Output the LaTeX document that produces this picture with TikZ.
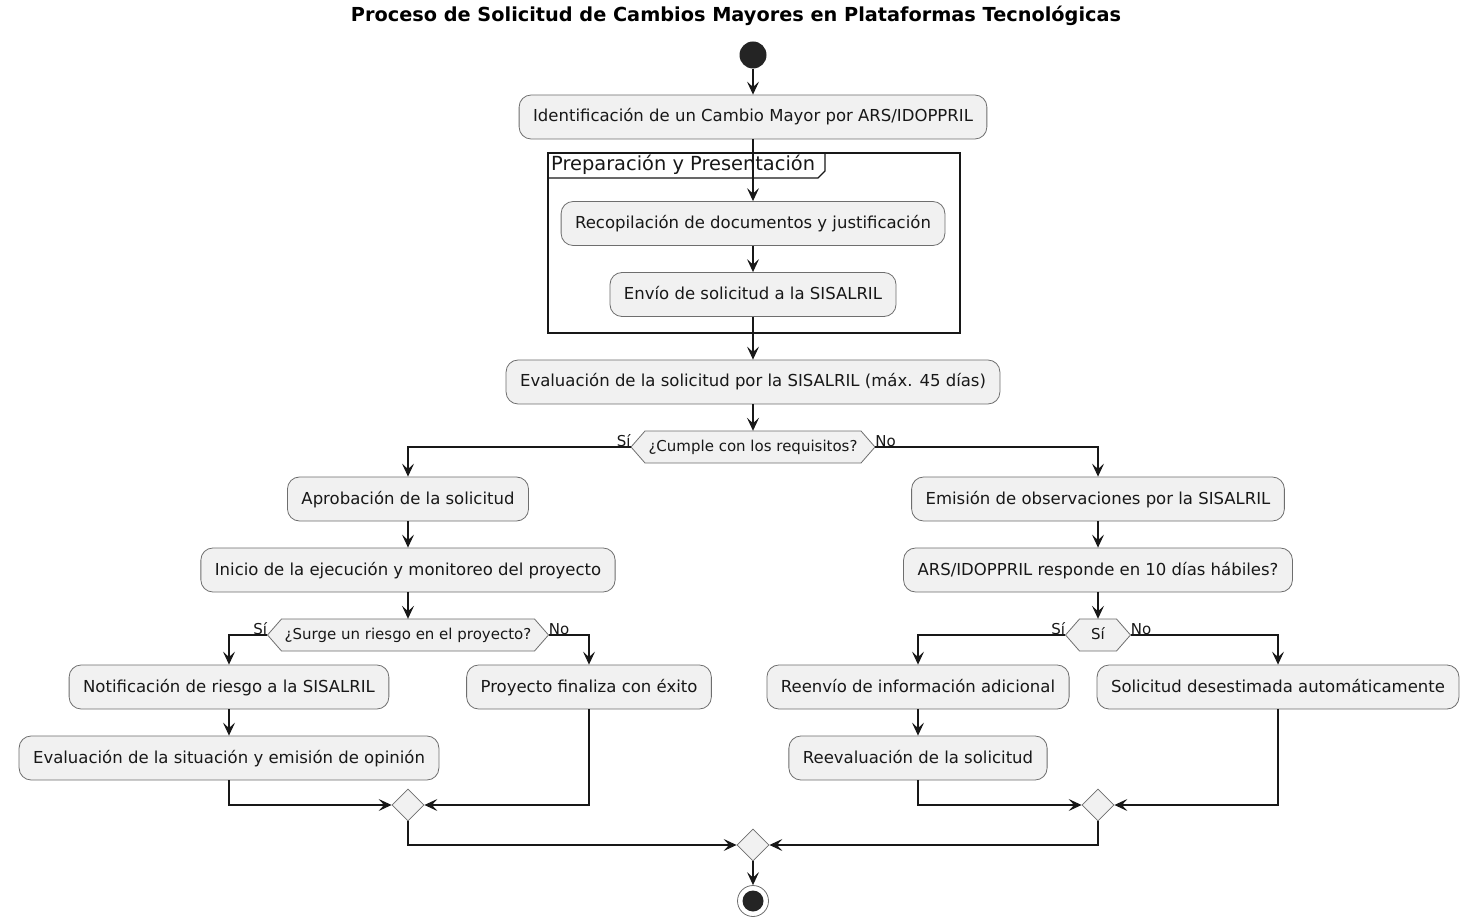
\documentclass[tikz,border=0pt]{standalone}
\usepackage{fontspec}
\setmainfont{DejaVu Sans}
\usetikzlibrary{shapes.geometric,arrows.meta,calc}
\definecolor{nodefill}{HTML}{F1F1F1}
\definecolor{ink}{HTML}{181818}
\definecolor{edge}{HTML}{6E6E6E}
\newcommand\hexbox[5]{% name, x, y, half width, text
  \draw[hexline] ({#2-#4},#3) -- ({#2-#4+14},{#3-16}) -- ({#2+#4-14},{#3-16}) -- ({#2+#4},#3) -- ({#2+#4-14},{#3+16}) -- ({#2-#4+14},{#3+16}) -- cycle;
  \node[hextext, minimum width={2*#4}] (#1) at (#2,#3) {#5};
}
\begin{document}
\begin{tikzpicture}[x=1pt,y=-1pt,
  act/.style={draw=edge, line width=0.8pt, fill=nodefill, rounded corners=12pt,
    minimum height=44pt, inner xsep=14pt, inner ysep=0pt, text height=12pt, text depth=2pt,
    font=\fontsize{16.5}{18}\selectfont, text=ink},
  hexline/.style={draw=edge, line width=0.8pt, fill=nodefill},
  hextext/.style={draw=none, minimum height=32pt, inner sep=0pt, text height=11pt, text depth=2pt,
    font=\fontsize{15}{17}\selectfont, text=ink},
  merge/.style={diamond, draw=edge, line width=0.8pt, fill=nodefill, minimum width=32pt, minimum height=32pt, inner sep=0pt},
  arr/.style={draw=ink, line width=1.1pt, -{Stealth[length=13pt,width=12pt,inset=5.5pt]}},
  lbl/.style={font=\fontsize{15}{17}\selectfont, text=ink, inner sep=1pt},
]
\useasboundingbox (0,0) rectangle (1468,917);
\fill[white] (0,0) rectangle (1468,917);

\node[font=\bfseries\fontsize{19.3}{21}\selectfont, text=black] (title) at (736,16) {Proceso de Solicitud de Cambios Mayores en Plataformas Tecnológicas};

% start
\node[circle, fill=ink!95, minimum size=27pt, inner sep=0pt] (start) at (753,55) {};

\node[act] (A) at (753,117) {Identificación de un Cambio Mayor por ARS/IDOPPRIL};

% group frame
\draw[line width=1.6pt, ink] (548,153) rectangle (960,333);
\draw[line width=1.1pt, ink] (548,178) -- (818,178) -- (825,171) -- (825,153);
\node[anchor=west, font=\fontsize{19.4}{21}\selectfont, text=ink, inner sep=0pt] (glabel) at (551,165) {Preparación y Presentación};

\node[act] (B) at (753,223.5) {Recopilación de documentos y justificación};
\node[act] (C) at (753,294.5) {Envío de solicitud a la SISALRIL};
\node[act] (D) at (753,382) {Evaluación de la solicitud por la SISALRIL (máx. 45 días)};

\hexbox{d1}{753}{447}{122}{¿Cumple con los requisitos?}

% left branch
\node[act] (E) at (408,499) {Aprobación de la solicitud};
\node[act] (F) at (408,570) {Inicio de la ejecución y monitoreo del proyecto};
\hexbox{d2}{408}{635}{140.5}{¿Surge un riesgo en el proyecto?}
\node[act] (G) at (229,687) {Notificación de riesgo a la SISALRIL};
\node[act] (H) at (229,758) {Evaluación de la situación y emisión de opinión};
\node[act] (I) at (589,687) {Proyecto finaliza con éxito};
\node[merge] (m1) at (408,805) {};

% right branch
\node[act] (J) at (1098,499) {Emisión de observaciones por la SISALRIL};
\node[act] (K) at (1098,570) {ARS/IDOPPRIL responde en 10 días hábiles?};
\hexbox{d3}{1098}{635}{32.5}{Sí}
\node[act] (L) at (918,687) {Reenvío de información adicional};
\node[act] (N) at (918,758) {Reevaluación de la solicitud};
\node[act] (O) at (1278,687) {Solicitud desestimada automáticamente};
\node[merge] (m2) at (1098,805) {};

\node[merge] (m3) at (753,845) {};
\node[circle, draw=edge, line width=0.8pt, fill=white, minimum size=31pt, inner sep=0pt] (end) at (753,901) {};
\node[circle, fill=ink!95, minimum size=21pt, inner sep=0pt] (endin) at (753,901) {};

% connectors
\draw[arr] (start) -- (A);
\draw[arr] (A) -- (B);
\draw[arr] (B) -- (C);
\draw[arr] (C) -- (D);
\draw[arr] (D) -- (d1);
\draw[arr] (d1.west) -| (E.north);
\draw[arr] (d1.east) -| (J.north);
\node[lbl, anchor=south east] (s1) at ($(d1.west)+(1,1)$) {Sí};
\node[lbl, anchor=south west] (n1) at ($(d1.east)+(-1,1)$) {No};

\draw[arr] (E) -- (F);
\draw[arr] (F) -- (d2);
\draw[arr] (d2.west) -| (G.north);
\draw[arr] (d2.east) -| (I.north);
\node[lbl, anchor=south east] (s2) at ($(d2.west)+(1,1)$) {Sí};
\node[lbl, anchor=south west] (n2) at ($(d2.east)+(-1,1)$) {No};
\draw[arr] (G) -- (H);
\draw[arr] (H.south) |- (m1.west);
\draw[arr] (I.south) |- (m1.east);

\draw[arr] (J) -- (K);
\draw[arr] (K) -- (d3);
\draw[arr] (d3.west) -| (L.north);
\draw[arr] (d3.east) -| (O.north);
\node[lbl, anchor=south east] (s3) at ($(d3.west)+(1,1)$) {Sí};
\node[lbl, anchor=south west] (n3) at ($(d3.east)+(-1,1)$) {No};
\draw[arr] (L) -- (N);
\draw[arr] (N.south) |- (m2.west);
\draw[arr] (O.south) |- (m2.east);

\draw[arr] (m1.south) |- (m3.west);
\draw[arr] (m2.south) |- (m3.east);
\draw[arr] (m3) -- (end);
\end{tikzpicture}
\end{document}
